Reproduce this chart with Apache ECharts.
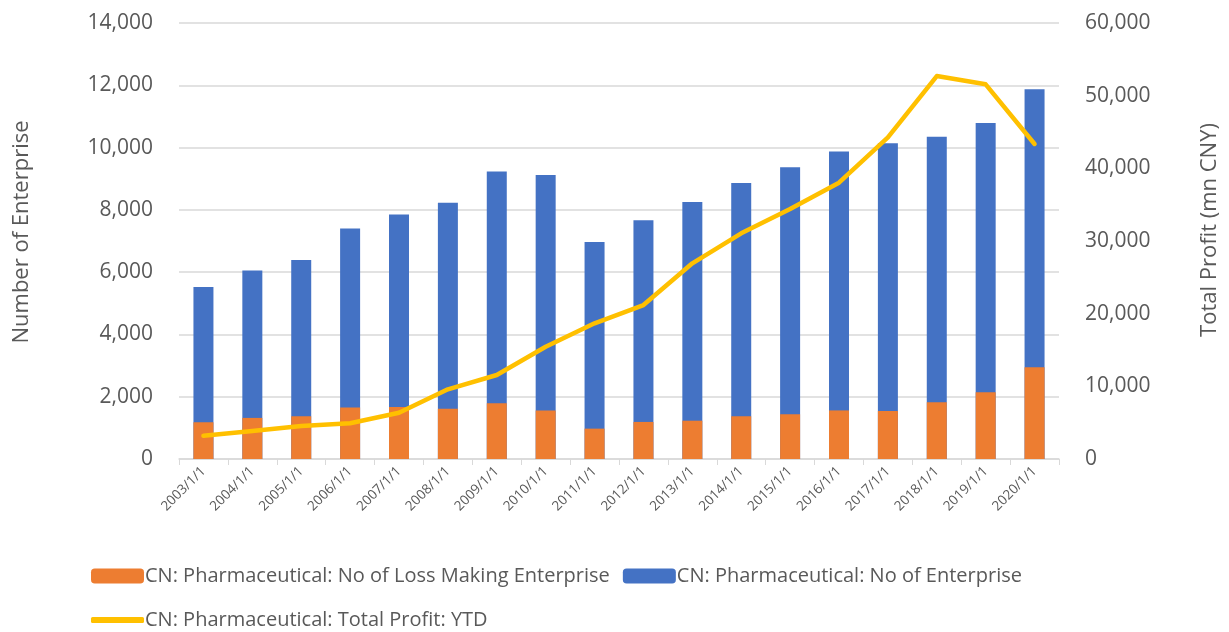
<!DOCTYPE html>
<html>
<head>
<meta charset="utf-8">
<script src="https://cdn.jsdelivr.net/npm/echarts@6/dist/echarts.min.js"></script>
<style>
  html, body { margin: 0; padding: 0; background: #fff; }
  #chart { width: 1229px; height: 632px; }
</style>
</head>
<body>
<div id="chart"></div>
<script>
// 年份
const categories = ['2003/1/1', '2004/1/1', '2005/1/1', '2006/1/1', '2007/1/1', '2008/1/1', '2009/1/1', '2010/1/1', '2011/1/1',
  '2012/1/1', '2013/1/1', '2014/1/1', '2015/1/1', '2016/1/1', '2017/1/1', '2018/1/1', '2019/1/1', '2020/1/1'];
// 企业总数
const enterpriseCount = [5520, 6050, 6390, 7400, 7850, 8230, 9230, 9120, 6970,
  7670, 8250, 8860, 9370, 9870, 10140, 10350, 10790, 11870];
// 亏损企业数
const lossMakingCount = [1180, 1320, 1370, 1650, 1670, 1610, 1790, 1560, 975,
  1190, 1230, 1370, 1435, 1560, 1540, 1820, 2140, 2945];
// 利润总额 (mn CNY)
const totalProfit = [3210, 3850, 4540, 4910, 6370, 9590, 11560, 15450, 18670,
  21190, 26930, 31060, 34400, 38020, 44270, 52700, 51560, 43350];
const leftTicks = { min: 0, max: 14000, interval: 2000 };
const rightTicks = { min: 0, max: 60000, interval: 10000 };

const FONT = '"Open Sans", "Noto Sans", sans-serif';
const TEXT = '#595959';

const chart = echarts.init(document.getElementById('chart'));
const option = {
  animation: false,
  textStyle: { fontFamily: FONT },
  grid: { left: 179, right: 163, top: 23, bottom: 173 },
  legend: [
    {
      left: 86, top: 561,
      itemWidth: 53, itemHeight: 15, itemGap: 13,
      textStyle: { fontSize: 20, color: TEXT, fontFamily: FONT, padding: [0, 0, 0, -4] },
      data: ['CN: Pharmaceutical: No of Loss Making Enterprise', 'CN: Pharmaceutical: No of Enterprise'],
    },
    {
      left: 86, top: 605,
      itemWidth: 53, itemHeight: 6,
      textStyle: { fontSize: 20, color: TEXT, fontFamily: FONT, padding: [0, 0, 0, -4] },
      data: [{ name: 'CN: Pharmaceutical: Total Profit: YTD', icon: 'roundRect' }],
    },
  ],
  xAxis: {
    type: 'category',
    data: categories,
    axisLine: { lineStyle: { color: '#D9D9D9', width: 1.5 } },
    axisTick: { show: true, length: 6, lineStyle: { color: '#D9D9D9' } },
    axisLabel: { rotate: 45, fontSize: 13.5, color: TEXT, margin: 10, fontFamily: FONT },
  },
  yAxis: [
    {
      type: 'value',
      ...leftTicks,
      name: 'Number of Enterprise',
      nameLocation: 'middle',
      nameGap: 146,
      nameTextStyle: { fontSize: 22, color: TEXT, fontFamily: FONT, padding: [0, 0, 0, 18] },
      axisLine: { show: false },
      axisTick: { show: false },
      splitLine: { lineStyle: { color: '#D9D9D9', width: 1.5 } },
      axisLabel: {
        fontSize: 21, color: TEXT, margin: 26, fontFamily: FONT,
        formatter: v => v.toLocaleString('en-US'),
      },
    },
    {
      type: 'value',
      ...rightTicks,
      name: 'Total Profit (mn CNY)',
      nameLocation: 'middle',
      nameGap: 140,
      nameRotate: 90,
      nameTextStyle: { fontSize: 22, color: TEXT, fontFamily: FONT, padding: [0, 0, 0, 22] },
      axisLine: { show: false },
      axisTick: { show: false },
      splitLine: { show: false },
      axisLabel: {
        fontSize: 21, color: TEXT, margin: 26, fontFamily: FONT,
        formatter: v => v.toLocaleString('en-US'),
      },
    },
  ],
  series: [
    {
      name: 'CN: Pharmaceutical: No of Enterprise',
      type: 'bar',
      data: enterpriseCount,
      barWidth: 20,
      barGap: '-100%',
      itemStyle: { color: '#4472C4' },
    },
    {
      name: 'CN: Pharmaceutical: No of Loss Making Enterprise',
      type: 'bar',
      data: lossMakingCount,
      barWidth: 20,
      barGap: '-100%',
      itemStyle: { color: '#ED7D31' },
    },
    {
      name: 'CN: Pharmaceutical: Total Profit: YTD',
      type: 'line',
      yAxisIndex: 1,
      data: totalProfit,
      symbol: 'none',
      z: 5,
      lineStyle: { color: '#FFC000', width: 4.5, cap: 'round', join: 'round' },
      itemStyle: { color: '#FFC000' },
    },
  ],
};
chart.setOption(option);
window.addEventListener('resize', () => {
  chart.resize();
});
</script>
</body>
</html>
